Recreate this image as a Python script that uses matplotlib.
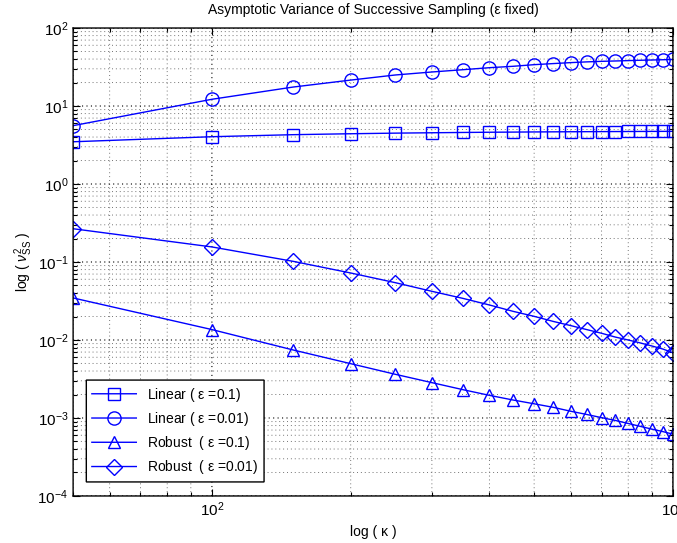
import numpy as np
import matplotlib
matplotlib.use('Agg')
from matplotlib import pyplot as plt
from matplotlib.ticker import LogLocator, NullFormatter

# kappa values
kappa = [50, 100, 150, 200, 250, 300, 350, 400, 450, 500,
         550, 600, 650, 700, 750, 800, 850, 900, 950, 1000]

# asymptotic variances
linear_01 = [3.48, 4.04, 4.29, 4.41, 4.49, 4.54, 4.58, 4.61, 4.63, 4.65,
             4.665, 4.677, 4.688, 4.697, 4.705, 4.712, 4.719, 4.725, 4.73, 4.735]
linear_001 = [5.6, 12.2, 17.5, 21.5, 25.0, 27.3, 29.2, 31.0, 32.3, 33.9,
              35.0, 36.0, 36.8, 37.4, 37.8, 38.2, 38.6, 38.9, 39.2, 39.5]
robust_01 = [0.0346, 0.0136, 0.00745, 0.00497, 0.00363, 0.00284, 0.00231,
             0.00195, 0.0017, 0.00152, 0.00137, 0.00122, 0.00111, 0.00101,
             0.00093, 0.00085, 0.00078, 0.00072, 0.00067, 0.00062]
robust_001 = [0.267, 0.156, 0.102, 0.0723, 0.0543, 0.0421, 0.0342, 0.0281,
              0.0233, 0.0201, 0.0173, 0.0153, 0.0136, 0.0122, 0.0109, 0.0100,
              0.00916, 0.00838, 0.00767, 0.00687]

labels = [r'Linear ( $\mathrm{\varepsilon}$ =0.1)',
          r'Linear ( $\mathrm{\varepsilon}$ =0.01)',
          r'Robust  ( $\mathrm{\varepsilon}$ =0.1)',
          r'Robust  ( $\mathrm{\varepsilon}$ =0.01)']

plt.rcParams['font.family'] = ['Liberation Sans', 'DejaVu Sans']
plt.rcParams['mathtext.fontset'] = 'custom'
plt.rcParams['mathtext.rm'] = 'Liberation Sans'
plt.rcParams['mathtext.it'] = 'Liberation Sans:italic'
plt.rcParams['path.snap'] = False

fig = plt.figure(figsize=(6.77, 5.43), dpi=100)
ax = fig.add_axes([0.108, 0.0866, 0.886, 0.8618])

blue = (0, 0, 1)
kw = dict(color=blue, lw=1.0, mfc='none', mec=blue, mew=1.0)
ax.loglog(kappa, linear_01, marker='s', ms=8, label=labels[0], **kw)
ax.loglog(kappa, linear_001, marker='o', ms=9.5, label=labels[1], **kw)
ax.loglog(kappa, robust_01, marker='^', ms=9, label=labels[2], **kw)
ax.loglog(kappa, robust_001, marker='D', ms=8, label=labels[3], **kw)

ax.set_xlim(50, 1000)
ax.set_ylim(1e-4, 1e2)
ax.yaxis.set_major_locator(LogLocator(base=10, numticks=10))
ax.yaxis.set_minor_locator(LogLocator(base=10, subs=np.arange(2, 10), numticks=20))
ax.yaxis.set_minor_formatter(NullFormatter())
ax.xaxis.set_minor_formatter(NullFormatter())

ax.grid(True, which='major', ls=(0, (1, 3)), color='k', lw=0.8)
ax.grid(True, which='minor', ls=(0, (1, 3)), color='0.45', lw=0.7)
ax.tick_params(which='both', direction='in', top=True, right=True,
               labelsize=11, width=0.8)
ax.tick_params(which='major', length=5)
ax.tick_params(which='minor', length=3)
for s in ax.spines.values():
    s.set_linewidth(1.0)

ax.set_title('Asymptotic Variance of Successive Sampling (\u03b5 fixed)',
             fontsize=10, pad=10)
ax.set_xlabel('log ( \u03ba )', fontsize=10, labelpad=4)
ax.set_ylabel(r'log ( $\nu^2_{\mathrm{SS}}$ )', fontsize=10, labelpad=2)

leg = ax.legend(loc='lower left', bbox_to_anchor=(0.022, 0.03),
                borderaxespad=0, fontsize=10, fancybox=False,
                edgecolor='k', framealpha=1, handlelength=3.2,
                labelspacing=0.45, borderpad=0.4)
leg.get_frame().set_linewidth(1.0)

plt.savefig('out.png', dpi=100)
